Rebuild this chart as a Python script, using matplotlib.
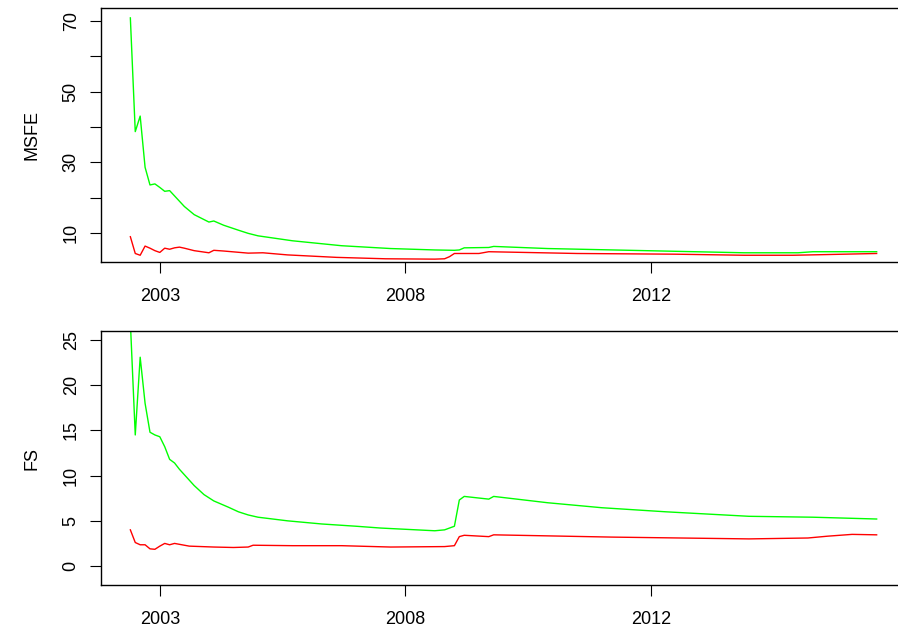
import matplotlib
matplotlib.use("Agg")
from matplotlib import pyplot as plt

plt.rcParams["font.family"] = ["Liberation Sans", "DejaVu Sans"]

# x positions are observation numbers (1..153), labelled with years
N_OBS = 153
YEAR_POS = [7, 57, 107]
YEAR_LABELS = ["2003", "2008", "2012"]

# MSFE panel
msfe_green_x = [1, 2, 3, 4, 5, 6, 7, 8, 9, 10, 12, 14, 17, 18, 20, 23, 25, 27, 34, 44,
                54, 63, 67, 68, 69, 74, 75, 86, 106, 126, 137, 140, 153]
msfe_green_y = [70.9, 38.7, 43.1, 28.6, 23.6, 23.9, 22.9, 21.8, 22.0, 20.5, 17.5, 15.2,
                13.1, 13.4, 12.2, 10.8, 9.9, 9.2, 7.8, 6.4, 5.6, 5.2, 5.1, 5.2, 5.8, 5.9,
                6.2, 5.6, 5.0, 4.4, 4.4, 4.7, 4.7]
msfe_red_x = [1, 2, 3, 4, 5, 6, 7, 8, 9, 10, 11, 12, 14, 16, 17, 18, 20, 25, 28, 33, 43,
              53, 63, 65, 66, 67, 72, 74, 92, 112, 126, 136, 143, 153]
msfe_red_y = [8.95, 4.2, 3.7, 6.3, 5.7, 5.0, 4.5, 5.7, 5.4, 5.8, 6.0, 5.7, 5.0, 4.6, 4.4,
              5.1, 4.9, 4.3, 4.4, 3.8, 3.1, 2.7, 2.6, 2.7, 3.3, 4.2, 4.2, 4.7, 4.2, 4.0,
              3.7, 3.7, 3.9, 4.2]

# FS panel
fs_green_x = [1, 2, 3, 4, 5, 6, 7, 8, 9, 10, 11, 13, 14, 16, 18, 21, 23, 25, 27, 33, 40,
              47, 52, 63, 65, 67, 68, 69, 74, 75, 86, 97, 110, 127, 140, 153]
fs_green_y = [27.0, 14.5, 23.1, 18.0, 14.8, 14.5, 14.3, 13.2, 11.8, 11.4, 10.7, 9.5,
              8.9, 7.9, 7.2, 6.5, 6.0, 5.65, 5.4, 5.0, 4.65, 4.4, 4.2, 3.9, 4.0, 4.4,
              7.3, 7.7, 7.4, 7.7, 7.0, 6.45, 6.0, 5.5, 5.4, 5.2]
fs_red_x = [1, 2, 3, 4, 5, 6, 7, 8, 9, 10, 13, 18, 22, 25, 26, 34, 44, 54, 65, 67, 68,
            69, 74, 75, 99, 127, 139, 143, 148, 153]
fs_red_y = [4.0, 2.6, 2.35, 2.35, 1.9, 1.85, 2.2, 2.5, 2.35, 2.5, 2.2, 2.1, 2.05, 2.1,
            2.3, 2.25, 2.25, 2.1, 2.15, 2.25, 3.25, 3.4, 3.25, 3.45, 3.2, 3.0, 3.1,
            3.3, 3.5, 3.45]

W, H = 898, 634
fig = plt.figure(figsize=(W / 100, H / 100), dpi=100)
left = 100.5 / W
width = (906.5 - 100.5) / W
ax1 = fig.add_axes([left, 1 - 262 / H, width, 254 / H])
ax2 = fig.add_axes([left, 1 - 585 / H, width, 254 / H])

ext = 0.04 * (N_OBS - 1)
panels = [
    (ax1, msfe_green_x, msfe_green_y, msfe_red_x, msfe_red_y, "MSFE",
     (1.79, 73.7), [10, 20, 30, 40, 50, 60, 70], ["10", "", "30", "", "50", "", "70"]),
    (ax2, fs_green_x, fs_green_y, fs_red_x, fs_red_y, "FS",
     (-2.1, 26.0), [0, 5, 10, 15, 20, 25], ["0", "5", "10", "15", "20", "25"]),
]
for ax, gx, gy, rx, ry, label, ylim, yt, ytl in panels:
    ax.plot(gx, gy, color="#00ff00", lw=1.0)
    ax.plot(rx, ry, color="#ff0000", lw=1.0)
    ax.set_xlim(1 - ext, N_OBS + ext)
    ax.set_ylim(*ylim)
    ax.set_xticks(YEAR_POS)
    ax.set_xticklabels(YEAR_LABELS, fontsize=13)
    ax.set_yticks(yt)
    ax.set_yticklabels(ytl, fontsize=13, rotation=90, va="center")
    ax.tick_params(direction="out", length=8, width=0.8)
    ax.tick_params(axis="x", pad=11)
    ax.tick_params(axis="y", pad=7)
    ax.set_ylabel(label, fontsize=13, labelpad=16)
    for sp in ax.spines.values():
        sp.set_linewidth(1.0)

fig.savefig("out.png", dpi=100)
